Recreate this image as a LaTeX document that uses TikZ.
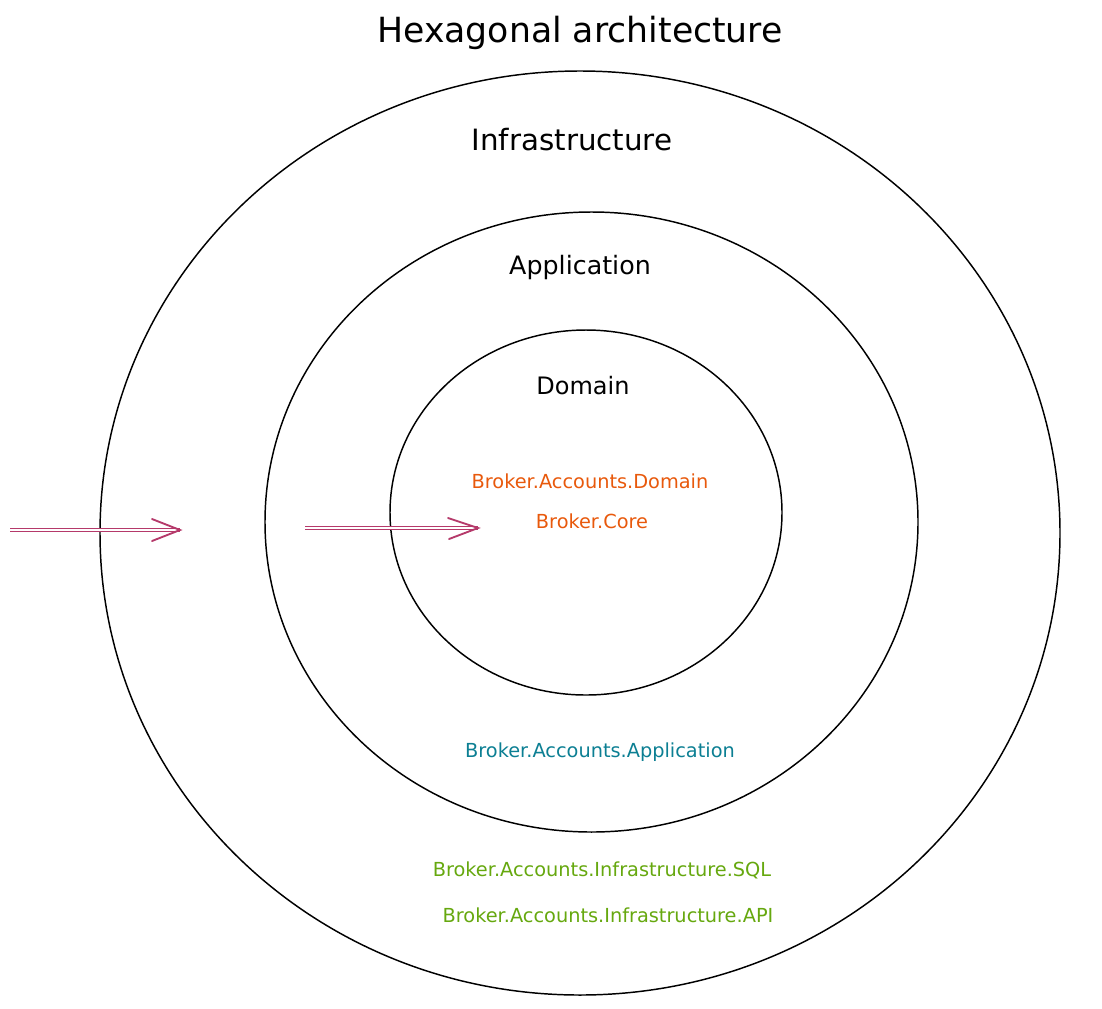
\documentclass[tikz,border=0pt]{standalone}
\usepackage{fontspec}
\setmainfont{DejaVu Sans}
\usetikzlibrary{arrows.meta}
\definecolor{domorange}{HTML}{E8590C}
\definecolor{appteal}{HTML}{0C7F93}
\definecolor{infgreen}{HTML}{66A80F}
\definecolor{arrpink}{HTML}{B5396A}
\begin{document}
\begin{tikzpicture}[x=0.75pt,y=-0.75pt,
        ring/.style={line width=1.1pt,black},
        layer/.style={font=\fontsize{19}{22}\selectfont},
        pkg/.style={font=\fontsize{14.5}{16}\selectfont},
        shaft/.style={draw=arrpink,line width=0.7pt,double=white,double distance=1.4pt},
        head/.style={draw=arrpink,line width=1.4pt,line cap=round}]
        \useasboundingbox (0,0) rectangle (1102,1008);
        %标题
        \node (title) at (580,33) {\fontsize{26}{30}\selectfont Hexagonal architecture};
        %三个圆;
        \draw [ring] (580,533) ellipse [x radius=480,y radius=462];
        \draw [ring] (591.5,522) ellipse [x radius=326.5,y radius=310];
        \draw [ring] (586,512.5) ellipse [x radius=196,y radius=182.5];
        %层名
        \node [layer,font=\fontsize{22}{24}\selectfont] (infra) at (572,140) {Infrastructure};
        \node [layer] (app) at (580,268) {Application};
        \node [layer,font=\fontsize{18}{20}\selectfont] (dom) at (583,386) {Domain};
        %项目
        \node [pkg,text=domorange] (domPkg) at (590,481) {Broker.Accounts.Domain};
        \node [pkg,text=domorange] (corePkg) at (592,521) {Broker.Core};
        \node [pkg,text=appteal] (appPkg) at (600,752) {Broker.Accounts.Application};
        \node [pkg,text=infgreen] (sqlPkg) at (602,870) {Broker.Accounts.Infrastructure.SQL};
        \node [pkg,text=infgreen] (apiPkg) at (608,915) {Broker.Accounts.Infrastructure.API};
        %箭头
        \coordinate (inS) at (10,530);
        \coordinate (inE) at (180,530);
        \coordinate (midS) at (305,528);
        \coordinate (midE) at (478,528);
        \draw [shaft] (inS) -- (inE);
        \draw [head] (inE) ++(-28,-11) -- (inE) -- ++(-28,11);
        \draw [shaft] (midS) -- (midE);
        \draw [head] (midE) ++(-30,-10) -- (midE) -- ++(-29,11);
\end{tikzpicture}
\end{document}
